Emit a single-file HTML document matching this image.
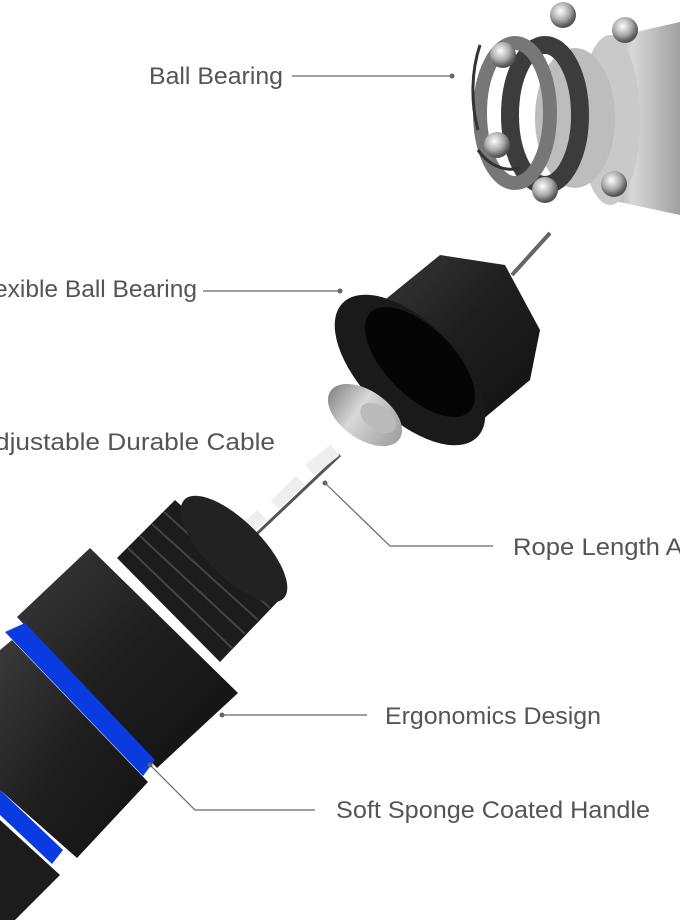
<!DOCTYPE html>
<html><head><meta charset="utf-8"><style>
html,body{margin:0;padding:0;background:#fff;}
svg{display:block;}
text{font-family:"Liberation Sans",sans-serif;font-size:24px;fill:#555;}
</style></head><body>
<svg width="680" height="920" viewBox="0 0 680 920" xmlns="http://www.w3.org/2000/svg">
<defs>
<linearGradient id="blk" x1="0" y1="0" x2="1" y2="1"><stop offset="0" stop-color="#3a3a3a"/><stop offset="0.5" stop-color="#1e1e1e"/><stop offset="1" stop-color="#111"/></linearGradient>
<linearGradient id="sil" x1="0" y1="0" x2="1" y2="0"><stop offset="0" stop-color="#8a8a8a"/><stop offset="0.4" stop-color="#d8d8d8"/><stop offset="1" stop-color="#a0a0a0"/></linearGradient>
<radialGradient id="ball" cx="0.4" cy="0.35" r="0.6"><stop offset="0" stop-color="#fff"/><stop offset="0.6" stop-color="#aaa"/><stop offset="1" stop-color="#555"/></radialGradient>
</defs>

<!-- bearing top right -->
<path d="M600 40 L680 22 L680 215 L610 200 Z" fill="url(#sil)"/>
<ellipse cx="610" cy="120" rx="30" ry="85" fill="#c9c9c9"/>
<ellipse cx="575" cy="118" rx="40" ry="70" fill="#bdbdbd"/>
<ellipse cx="545" cy="115" rx="35" ry="70" fill="none" stroke="#3c3c3c" stroke-width="18"/>
<ellipse cx="515" cy="113" rx="35" ry="70" fill="none" stroke="#777" stroke-width="14"/>
<path d="M480 45 A45 85 0 0 0 478 130" fill="none" stroke="#333" stroke-width="3"/>
<path d="M478 150 A45 60 0 0 0 520 168" fill="none" stroke="#333" stroke-width="3"/>
<circle cx="563" cy="15" r="13" fill="url(#ball)"/>
<circle cx="625" cy="30" r="13" fill="url(#ball)"/>
<circle cx="503" cy="55" r="13" fill="url(#ball)"/>
<circle cx="497" cy="145" r="13" fill="url(#ball)"/>
<circle cx="545" cy="190" r="13" fill="url(#ball)"/>
<circle cx="614" cy="184" r="13" fill="url(#ball)"/>

<!-- pin top -->
<line x1="512" y1="275" x2="550" y2="233" stroke="#666" stroke-width="4"/>
<!-- black cap -->
<path d="M360 320 L440 255 L505 265 L540 330 L530 380 L470 430 Z" fill="url(#blk)"/>
<ellipse cx="410" cy="370" rx="95" ry="48" transform="rotate(45 410 370)" fill="#1a1a1a"/>
<ellipse cx="420" cy="362" rx="70" ry="34" transform="rotate(45 420 362)" fill="#050505"/>
<!-- washer -->
<ellipse cx="365" cy="415" rx="42" ry="24" transform="rotate(35 365 415)" fill="url(#sil)"/>
<ellipse cx="378" cy="418" rx="20" ry="12" transform="rotate(35 378 418)" fill="#bbb"/>
<!-- cable parts -->
<line x1="245" y1="545" x2="340" y2="455" stroke="#555" stroke-width="3"/>
<line x1="310" y1="470" x2="335" y2="450" stroke="#eee" stroke-width="14"/>
<line x1="275" y1="505" x2="300" y2="480" stroke="#eee" stroke-width="12"/>
<line x1="240" y1="535" x2="262" y2="515" stroke="#eee" stroke-width="14"/>

<!-- handle -->
<path d="M117 558 L175 500 L282 597 L220 662 Z" fill="#1c1c1c"/>
<g stroke="#444" stroke-width="2" fill="none">
<line x1="128" y1="548" x2="232" y2="648"/><line x1="140" y1="536" x2="245" y2="634"/>
<line x1="152" y1="524" x2="258" y2="620"/><line x1="164" y1="512" x2="270" y2="608"/>
</g>
<ellipse cx="234" cy="549" rx="70" ry="28" transform="rotate(45 234 549)" fill="#222"/>
<path d="M17 617 L90 548 L238 693 L157 768 Z" fill="url(#blk)"/>
<path d="M5 632 L25 623 L155 760 L143 776 Z" fill="#0a3be0"/>
<path d="M0 650 L12 640 L148 782 L77 858 L0 790 Z" fill="url(#blk)"/>
<path d="M0 790 L63 850 L52 864 L0 815 Z" fill="#0a3be0"/>
<path d="M0 820 L60 875 L0 935 Z" fill="#1c1c1c"/>

<!-- leaders -->
<g stroke="#666" stroke-width="1.2" fill="none">
<line x1="292" y1="76" x2="452" y2="76"/>
<line x1="203" y1="291" x2="340" y2="291"/>
<polyline points="325,483 390,546 493,546"/>
<line x1="222" y1="715" x2="367" y2="715"/>
<polyline points="150,765 195,810 315,810"/>
</g>
<g fill="#666"><circle cx="452" cy="76" r="2.5"/><circle cx="340" cy="291" r="2.5"/><circle cx="325" cy="483" r="2.5"/><circle cx="222" cy="715" r="2.5"/><circle cx="150" cy="765" r="2.5"/></g>

<text x="149" y="84" textLength="134" lengthAdjust="spacingAndGlyphs">Ball Bearing</text>
<text x="-6" y="297" textLength="203" lengthAdjust="spacingAndGlyphs">exible Ball Bearing</text>
<text x="-5" y="450" textLength="280" lengthAdjust="spacingAndGlyphs">djustable Durable Cable</text>
<text x="513" y="555" textLength="184" lengthAdjust="spacingAndGlyphs">Rope Length Ad</text>
<text x="385" y="724" textLength="216" lengthAdjust="spacingAndGlyphs">Ergonomics Design</text>
<text x="336" y="818" textLength="314" lengthAdjust="spacingAndGlyphs">Soft Sponge Coated Handle</text>
</svg>
</body></html>
